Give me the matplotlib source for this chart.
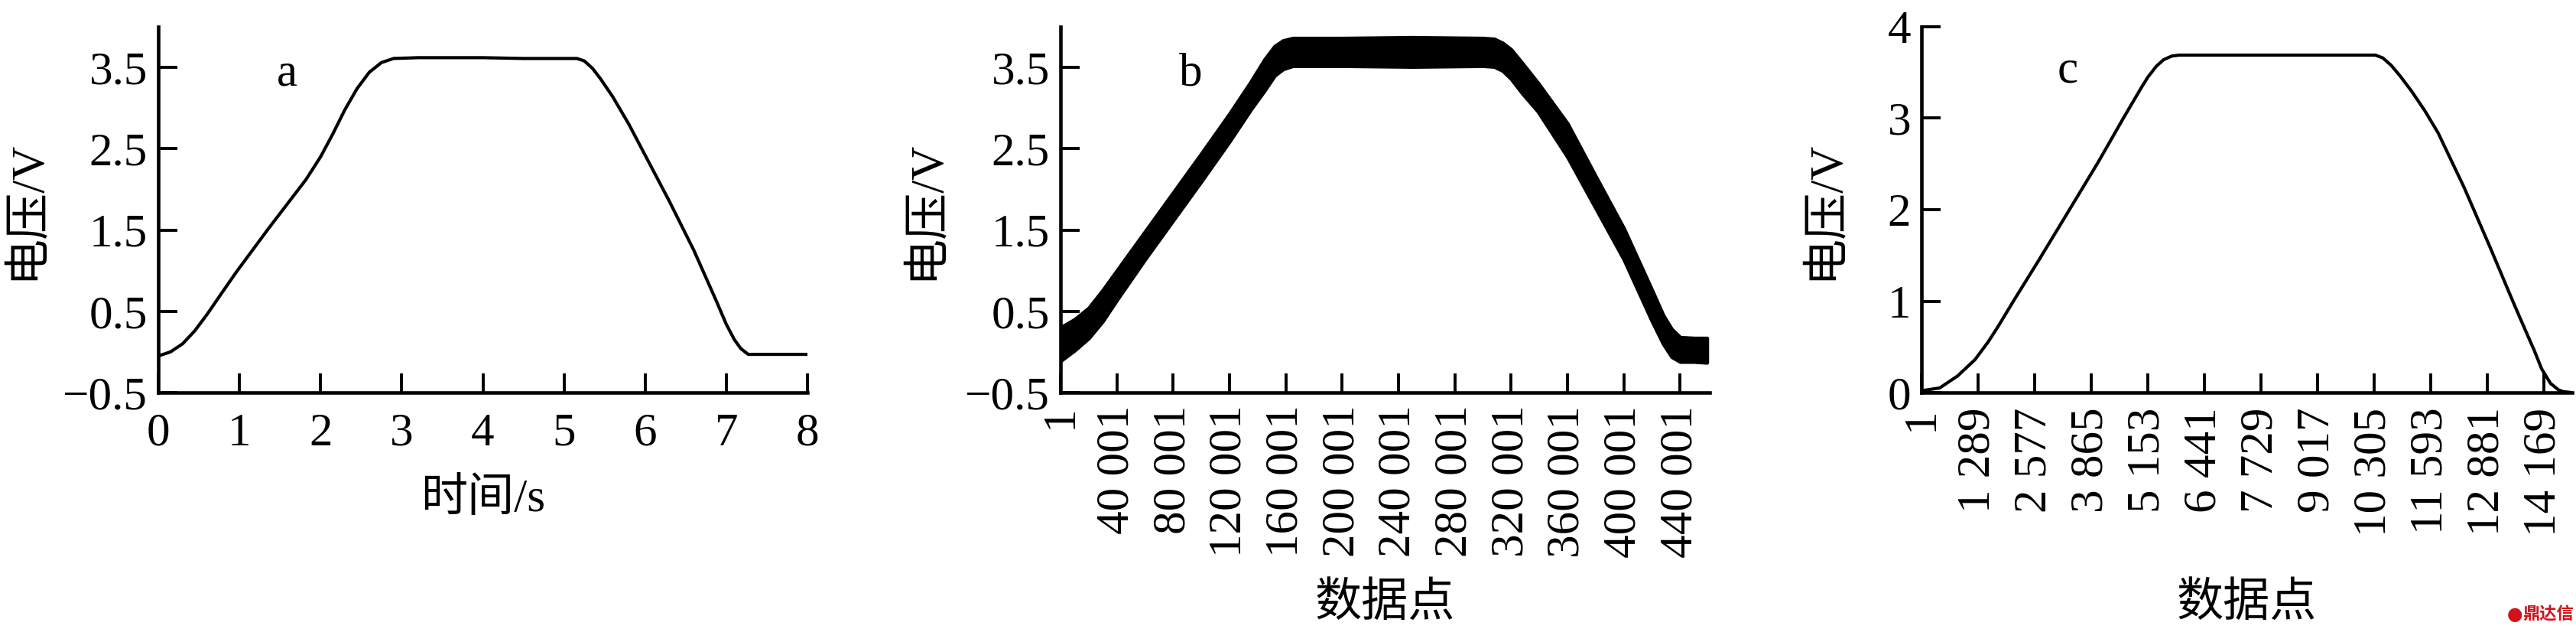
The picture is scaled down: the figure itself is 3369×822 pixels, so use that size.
import matplotlib
matplotlib.use('Agg')
import matplotlib.pyplot as plt

plt.rcParams['font.family'] = ['Liberation Serif', 'Noto Sans CJK SC']
plt.rcParams['axes.unicode_minus'] = True

# panel a: voltage vs time
t_a = [0, 0.15, 0.3, 0.45, 0.6, 0.8, 0.96, 1.36, 1.82, 2.0, 2.15, 2.3, 2.45, 2.6, 2.75, 2.9,
       3.2, 4.0, 4.5, 5.16, 5.25, 5.35, 5.45, 5.6, 5.8, 6.0, 6.3, 6.6, 6.88, 7.0,
       7.1, 7.18, 7.27, 7.5, 8.0]
v_a = [-0.05, 0.0, 0.1, 0.26, 0.46, 0.75, 0.98, 1.52, 2.12, 2.40, 2.68, 2.98, 3.24, 3.44, 3.56, 3.61,
       3.62, 3.62, 3.61, 3.61, 3.58, 3.49, 3.36, 3.14, 2.80, 2.42, 1.85, 1.25, 0.62, 0.34,
       0.15, 0.04, -0.03, -0.03, -0.03]

# panel b: raw samples, drawn as the noisy band (upper / lower edge)
x_b = [1, 10000, 20000, 30000, 40001, 60000, 80001, 100000, 120001, 135000, 145000,
       152000, 158000, 165000, 200000, 250000, 300000, 308000, 314000, 320000, 328000,
       339000, 360001, 380000, 400001, 420000, 428000, 434000, 440001, 450000, 459000]
up_b = [0.30, 0.40, 0.54, 0.76, 1.00, 1.48, 1.96, 2.44, 2.93, 3.32, 3.60,
        3.76, 3.83, 3.86, 3.86, 3.87, 3.86, 3.85, 3.80, 3.72, 3.55,
        3.31, 2.81, 2.16, 1.52, 0.76, 0.45, 0.28, 0.18, 0.17, 0.17]
lo_b = [-0.11, 0.02, 0.17, 0.38, 0.64, 1.14, 1.62, 2.10, 2.59, 2.98, 3.22,
        3.40, 3.48, 3.52, 3.52, 3.51, 3.52, 3.51, 3.46, 3.36, 3.18,
        2.96, 2.40, 1.77, 1.14, 0.38, 0.10, -0.06, -0.12, -0.12, -0.13]

# panel c: filtered data
x_c = [1, 414, 819, 1219, 1513, 1742, 2094, 2675, 3256, 4024, 4620, 5000, 5155, 5350,
       5512, 5700, 5869, 10333, 10500, 10690, 10900, 11166, 11461, 11761, 12356, 12952,
       13478, 13740, 13950, 14117, 14320, 14500, 14605, 14800]
v_c = [0.02, 0.05, 0.18, 0.36, 0.55, 0.72, 1.00, 1.45, 1.91, 2.52, 3.02, 3.33, 3.45, 3.57,
       3.64, 3.68, 3.69, 3.69, 3.66, 3.58, 3.46, 3.29, 3.08, 2.84, 2.24, 1.58,
       0.98, 0.69, 0.46, 0.26, 0.10, 0.03, 0.01, 0.0]

ticks_a = [0, 1, 2, 3, 4, 5, 6, 7, 8]
yticks_ab = [-0.5, 0.5, 1.5, 2.5, 3.5]
ticks_b = [1 + 40000 * k for k in range(12)]
ticks_c = [1 + 1288 * k for k in range(12)]
yticks_c = [0, 1, 2, 3, 4]


def fmt(n):
    s = str(n)
    if len(s) > 3:
        s = s[:-3] + ' ' + s[-3:]
    return s


fig = plt.figure(figsize=(33.69, 8.22), dpi=100)
W, H = 3369, 822
bot = 1 - 513 / H
hgt = (513 - 35) / H

ax_a = fig.add_axes([207 / W, bot, 849 / W, hgt])
ax_b = fig.add_axes([1387 / W, bot, 849 / W, hgt])
ax_c = fig.add_axes([2513 / W, bot, 851 / W, hgt])

fs = 44
for ax in (ax_a, ax_b, ax_c):
    ax.spines['top'].set_visible(False)
    ax.spines['right'].set_visible(False)
    ax.spines['left'].set_linewidth(3.3)
    ax.spines['bottom'].set_linewidth(3.3)
    ax.tick_params(direction='in', length=18, width=2.8, labelsize=fs)
    ax.tick_params(axis='y', pad=10)

ax_a.plot(t_a, v_a, color='black', lw=3.0, solid_joinstyle='round')
ax_a.set_xlim(0, 8)
ax_a.set_ylim(-0.5, 4.0)
ax_a.set_xticks(ticks_a)
ax_a.set_yticks(yticks_ab)
ax_a.tick_params(axis='x', pad=19)
ax_a.text(1.585, 3.28, 'a', fontsize=fs, ha='center', va='baseline')
ax_a.set_xlabel('时间/s', fontsize=fs, va='center')
ax_a.xaxis.set_label_coords(0.5, (513 - 653) / 478)

ax_b.fill_between(x_b, lo_b, up_b, color='black', lw=3.5, joinstyle='round')
ax_b.set_xlim(1, 461000)
ax_b.set_ylim(-0.5, 4.0)
ax_b.set_xticks(ticks_b, [fmt(v) for v in ticks_b], rotation=90)
ax_b.set_yticks(yticks_ab)
ax_b.tick_params(axis='x', pad=12)
ax_b.text(92400, 3.28, 'b', fontsize=fs, ha='center', va='baseline')
ax_b.set_xlabel('数据点', fontsize=fs, va='center')
ax_b.xaxis.set_label_coords(0.5, (513 - 790) / 478)

ax_c.plot(x_c, v_c, color='black', lw=3.0, solid_joinstyle='round')
ax_c.set_xlim(1, 14813)
ax_c.set_ylim(0, 4)
ax_c.set_xticks(ticks_c, [fmt(v) for v in ticks_c], rotation=90)
ax_c.set_yticks(yticks_c)
ax_c.tick_params(axis='x', pad=14)
ax_c.text(3325, 3.39, 'c', fontsize=fs, ha='center', va='baseline')
ax_c.set_xlabel('数据点', fontsize=fs, va='center')
ax_c.xaxis.set_label_coords(0.5, (513 - 790) / 478)

ax_a.set_ylabel('电压/V', fontsize=fs, va='center')
ax_a.yaxis.set_label_coords((35 - 207) / 849, 0.5)
ax_b.set_ylabel('电压/V', fontsize=fs, va='center')
ax_b.yaxis.set_label_coords((1211 - 1387) / 849, 0.5)
ax_c.set_ylabel('电压/V', fontsize=fs, va='center')
ax_c.yaxis.set_label_coords((2387 - 2513) / 851, 0.5)

# watermark bottom right
fig.text(3289 / W, 1 - 803 / H, '●', color='#d0121b', fontsize=17,
         family=['DejaVu Sans'], ha='center', va='center')
fig.text(3366 / W, 1 - 803 / H, '鼎达信', color='#d0121b', fontsize=16,
         fontweight='bold', family=['Noto Sans CJK SC'], ha='right', va='center')

plt.savefig('out.png', dpi=100)
